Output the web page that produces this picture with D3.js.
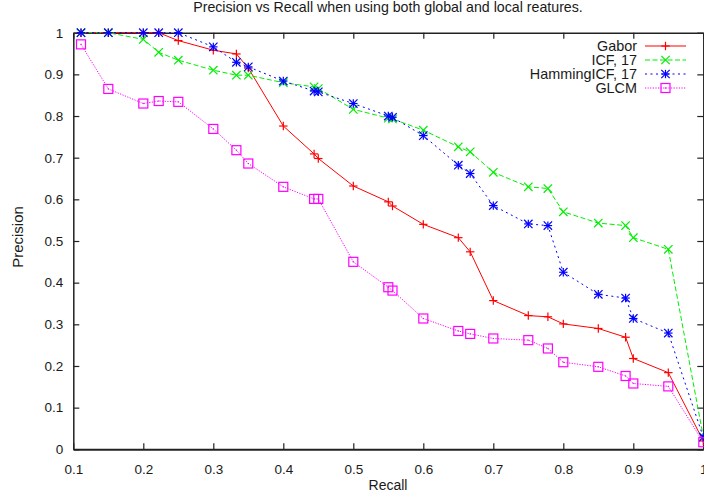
<!DOCTYPE html>
<html>
<head>
<meta charset="utf-8">
<script src="https://cdn.jsdelivr.net/npm/d3@7"></script>
<style>
  html, body { margin: 0; padding: 0; background: #fff; }
  svg { display: block; }
  text { font-family: "Liberation Sans", Arial, Helvetica, sans-serif; fill: #1a1a1a; }
</style>
</head>
<body>
<svg id="chart" width="704" height="494"></svg>
<script>
// Recall values shared by all four methods
const recall = [0.111, 0.15, 0.2, 0.222, 0.25, 0.3, 0.333, 0.35, 0.4, 0.444, 0.45, 0.5,
  0.55, 0.556, 0.6, 0.65, 0.667, 0.7, 0.75, 0.778, 0.8, 0.85, 0.889, 0.9, 0.95, 1.0];

// Precision per method
const gabor = [1, 1, 1, 1, 0.981, 0.958, 0.949, 0.915, 0.776, 0.709, 0.698, 0.632,
  0.594, 0.584, 0.540, 0.508, 0.474, 0.357, 0.321, 0.318, 0.301, 0.290, 0.269, 0.218, 0.184, 0.02];
const icf = [1, 1, 0.984, 0.953, 0.934, 0.910, 0.898, 0.898, 0.880, 0.870, 0.866, 0.816,
  0.795, 0.793, 0.766, 0.726, 0.714, 0.665, 0.630, 0.626, 0.570, 0.543, 0.537, 0.508, 0.480, 0.03];
const hammingIcf = [1, 1, 1, 1, 1, 0.966, 0.929, 0.918, 0.884, 0.860, 0.858, 0.830,
  0.800, 0.797, 0.753, 0.682, 0.662, 0.585, 0.541, 0.537, 0.425, 0.372, 0.363, 0.314, 0.279, 0.029];
const glcm = [0.972, 0.865, 0.830, 0.836, 0.834, 0.769, 0.718, 0.686, 0.630, 0.601, 0.601, 0.450,
  0.389, 0.381, 0.314, 0.284, 0.277, 0.266, 0.262, 0.242, 0.209, 0.198, 0.176, 0.158, 0.151, 0.017];

const seriesNames = ["Gabor", "ICF, 17", "HammingICF, 17", "GLCM"];
const xTicks = [0.1, 0.2, 0.3, 0.4, 0.5, 0.6, 0.7, 0.8, 0.9, 1];
const yTicks = [0, 0.1, 0.2, 0.3, 0.4, 0.5, 0.6, 0.7, 0.8, 0.9, 1];

const series = [
  { name: seriesNames[0], values: gabor,      color: "#ff0000", dash: null,      marker: "plus" },
  { name: seriesNames[1], values: icf,        color: "#00ee00", dash: "5,2.5",   marker: "cross" },
  { name: seriesNames[2], values: hammingIcf, color: "#0000ff", dash: "2,3.5",   marker: "star" },
  { name: seriesNames[3], values: glcm,       color: "#ff00ff", dash: "1.2,1.4", marker: "square" }
];

const svg = d3.select("#chart");
const plotLeft = 73.3, plotRight = 703.3, plotTop = 32.7, plotBottom = 449.3;

const x = d3.scaleLinear().domain([0.1, 1]).range([plotLeft, plotRight]);
const y = d3.scaleLinear().domain([0, 1]).range([plotBottom, plotTop]);

// Title and axis labels
svg.append("text").attr("x", 388).attr("y", 12).attr("text-anchor", "middle")
  .style("font-size", "14.2px").text("Precision vs Recall when using both global and local reatures.");
svg.append("text").attr("x", 388).attr("y", 490).attr("text-anchor", "middle")
  .style("font-size", "14px").text("Recall");
svg.append("text").attr("transform", "translate(22.5,237) rotate(-90)").attr("text-anchor", "middle")
  .style("font-size", "15px").text("Precision");

// Axes with inward ticks, mirrored on the opposite sides
const tickLen = 6;
const axisColor = "#222";
const gBottom = svg.append("g").attr("transform", `translate(0,${plotBottom})`)
  .call(d3.axisBottom(x).tickValues(xTicks).tickSizeInner(-tickLen).tickSizeOuter(0)
    .tickPadding(tickLen + 9).tickFormat(d3.format("")));
const gTop = svg.append("g").attr("transform", `translate(0,${plotTop})`)
  .call(d3.axisTop(x).tickValues(xTicks).tickSizeInner(-tickLen).tickSizeOuter(0).tickFormat(""));
const gLeft = svg.append("g").attr("transform", `translate(${plotLeft},0)`)
  .call(d3.axisLeft(y).tickValues(yTicks).tickSizeInner(-tickLen).tickSizeOuter(0)
    .tickPadding(tickLen + 4).tickFormat(d3.format("")));
const gRight = svg.append("g").attr("transform", `translate(${plotRight},0)`)
  .call(d3.axisRight(y).tickValues(yTicks).tickSizeInner(-tickLen).tickSizeOuter(0).tickFormat(""));

[gBottom, gTop, gLeft, gRight].forEach(g => {
  g.select(".domain").attr("stroke", axisColor).attr("stroke-width", 1.5);
  g.selectAll(".tick line").attr("stroke", axisColor).attr("stroke-width", 1.2);
  g.selectAll(".tick text").style("font-size", "13.5px").style("font-family", "'Liberation Sans', Arial, sans-serif")
    .attr("fill", "#1a1a1a");
});
gBottom.select(".domain").attr("stroke-width", 2);

// Marker shapes
function drawMarker(g, type, cx, cy, color) {
  const s = 4.2;
  const line = (x1, y1, x2, y2) => g.append("line").attr("x1", x1).attr("y1", y1)
    .attr("x2", x2).attr("y2", y2).attr("stroke", color).attr("stroke-width", 1.2);
  if (type === "plus" || type === "star") {
    line(cx - s, cy, cx + s, cy);
    line(cx, cy - s, cx, cy + s);
  }
  if (type === "cross" || type === "star") {
    line(cx - s, cy - s, cx + s, cy + s);
    line(cx - s, cy + s, cx + s, cy - s);
  }
  if (type === "square") {
    g.append("rect").attr("x", cx - 4.5).attr("y", cy - 4.5).attr("width", 9).attr("height", 9)
      .attr("fill", "none").attr("stroke", color).attr("stroke-width", 1.2);
    g.append("rect").attr("x", cx - 0.6).attr("y", cy - 0.6).attr("width", 1.2).attr("height", 1.2)
      .attr("fill", color);
  }
}

const lineGen = d3.line().x(d => x(d[0])).y(d => y(d[1]));

series.forEach(s => {
  const pts = recall.map((r, i) => [r, s.values[i]]);
  const g = svg.append("g");
  g.append("path").datum(pts).attr("d", lineGen).attr("fill", "none")
    .attr("stroke", s.color).attr("stroke-width", 1).attr("stroke-dasharray", s.dash);
  pts.forEach(p => drawMarker(g, s.marker, x(p[0]), y(p[1]), s.color));
});

// Legend (top right, text right-aligned before the sample line)
const legendTextX = 637, sampleX1 = 645, sampleX2 = 686;
series.forEach((s, i) => {
  const ly = 46 + i * 14;
  const g = svg.append("g");
  g.append("text").attr("x", legendTextX).attr("y", ly + 5).attr("text-anchor", "end")
    .style("font-size", "14.4px").text(s.name);
  g.append("line").attr("x1", sampleX1).attr("x2", sampleX2).attr("y1", ly).attr("y2", ly)
    .attr("stroke", s.color).attr("stroke-width", 1).attr("stroke-dasharray", s.dash);
  drawMarker(g, s.marker, (sampleX1 + sampleX2) / 2, ly, s.color);
});
</script>
</body>
</html>
